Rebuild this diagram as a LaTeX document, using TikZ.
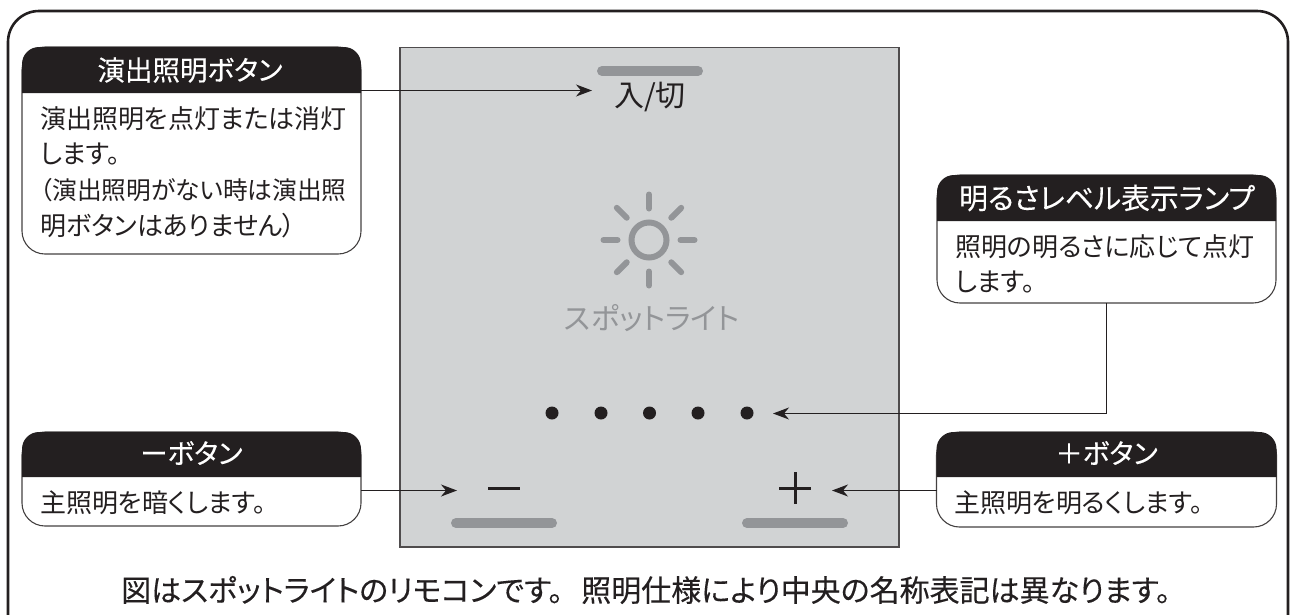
\documentclass[tikz,border=0pt]{standalone}
\usepackage{fontspec}
\usetikzlibrary{arrows.meta}
\setmainfont[RawFeature=+palt]{Noto Sans CJK JP}
\newfontfamily\cjkbold[FakeBold=.25,RawFeature=+palt]{Noto Sans CJK JP}
\definecolor{panelgray}{HTML}{D1D3D4}
\definecolor{markgray}{HTML}{939598}
\definecolor{headblack}{HTML}{231F20}
\tikzstyle{frame}=[draw=headblack,line width=2.6pt,rounded corners=31pt]
\tikzstyle{panel}=[draw=headblack!80,fill=panelgray,line width=1.2pt]
\tikzstyle{callout}=[draw=headblack!85,line width=1.1pt,rounded corners=23pt,inner sep=0pt,outer sep=0pt]
\tikzstyle{head}=[fill=headblack]
\tikzstyle{title}=[white,font=\fontsize{27.5}{30}\selectfont\cjkbold,inner sep=0pt]
\tikzstyle{body}=[headblack,font=\fontsize{26}{35.6}\selectfont,anchor=west,align=left,inner sep=0pt]
\tikzstyle{slot}=[markgray,line width=10pt,line cap=round]
\tikzstyle{ray}=[markgray,line width=6pt,line cap=round]
\tikzstyle{lamp}=[circle,fill=headblack,inner sep=0pt,minimum size=13pt]
\tikzstyle{sign}=[headblack,line width=3pt]
\tikzstyle{lead}=[headblack,line width=1.1pt]

\begin{document}
\begin{tikzpicture}[x=1pt,y=-1pt,>={Stealth[length=16pt,width=12pt,inset=5pt]}]
    \useasboundingbox (0,0) rectangle (1292,614);

    % Frame
    \draw[frame] (8,624) -- (8,11) -- (1288,11) -- (1288,624);

    % Remote
    \draw[panel] (400,47.5) rectangle (899,547);
    \draw[slot] (602,71) -- (698,71);
    \draw[slot] (456,523) -- (552,523);
    \draw[slot] (747,523) -- (843,523);
    \draw (650,97) node[headblack,font=\fontsize{30}{30}\selectfont,inner sep=0pt] (onoff) {入/切};

    % Sun
    \draw[markgray,line width=6pt] (649,240) circle (17.5);
    \foreach \a in {0,45,...,315}
        \draw[ray] (649,240) ++(\a:31.5) -- ++(\a:14);
    \draw (652,318) node[markgray,font=\fontsize{29.5}{30}\selectfont,inner sep=0pt] (spot) {スポットライト};

    % Lamps
    \foreach \x/\n in {552/a,601/b,649.5/c,698/d,747/e}
        \draw (\x,413) node[lamp] (lamp\n) {};

    % Signs
    \draw[sign] (488,488) -- (520,488);
    \draw[sign] (779,488) -- (811,488);
    \draw[sign] (795,472) -- (795,504);

    % Callouts
    \draw (191.5,150.5) node[callout,minimum width=339pt,minimum height=207pt] (effect) {};
    \draw (1106.5,239) node[callout,minimum width=339pt,minimum height=128pt] (level) {};
    \draw (191.5,479) node[callout,minimum width=339pt,minimum height=94pt] (minus) {};
    \draw (1106.5,479.5) node[callout,minimum width=340pt,minimum height=95pt] (plus) {};

    % Heads
    \fill[head] (22,93) [rounded corners=17pt] -- (22,47) -- (361,47) [sharp corners] -- (361,93) -- cycle;
    \fill[head] (937,221) [rounded corners=17pt] -- (937,175) -- (1276,175) [sharp corners] -- (1276,221) -- cycle;
    \fill[head] (22,477) [rounded corners=17pt] -- (22,432) -- (361,432) [sharp corners] -- (361,477) -- cycle;
    \fill[head] (936.5,477) [rounded corners=17pt] -- (936.5,432) -- (1276.5,432) [sharp corners] -- (1276.5,477) -- cycle;

    % Titles
    \draw (190,70) node[title] (effecttitle) {演出照明ボタン};
    \draw (1107,198) node[title,font=\fontsize{28.8}{30}\selectfont\cjkbold] (leveltitle) {明るさレベル表示ランプ};
    \draw (191.5,453) node[title] (minustitle) {ーボタン};
    \draw (1106.5,453) node[title] (plustitle) {＋ボタン};

    % Texts
    \draw (40,172) node[body] (effecttext) {演出照明を点灯または消灯\\します。\\\fontsize{24.7}{35.6}\selectfont（演出照明がない時は演出照\\明ボタンはありません）};
    \draw (955,264) node[body] (leveltext) {照明の明るさに応じて点灯\\します。};
    \draw (40,503) node[body] (minustext) {主照明を暗くします。};
    \draw (954,503) node[body] (plustext) {主照明を明るくします。};
    \draw (646,590) node[headblack,font=\fontsize{30}{30}\selectfont\cjkbold,inner sep=0pt] (note) {図はスポットライトのリモコンです。\hspace{.6em}照明仕様により中央の名称表記は異なります。};

    % Leads
    \coordinate (onoffin) at (592,90.5);
    \coordinate (lampin) at (773,413.5);
    \coordinate (minusin) at (457,490.5);
    \coordinate (plusin) at (832,490.5);
    \draw[lead,->] (effect.east |- onoffin) -- (onoffin);
    \draw[lead,->] (level.south) |- (lampin);
    \draw[lead,->] (minus.east |- minusin) -- (minusin);
    \draw[lead,->] (plus.west |- plusin) -- (plusin);

\end{tikzpicture}
\end{document}
